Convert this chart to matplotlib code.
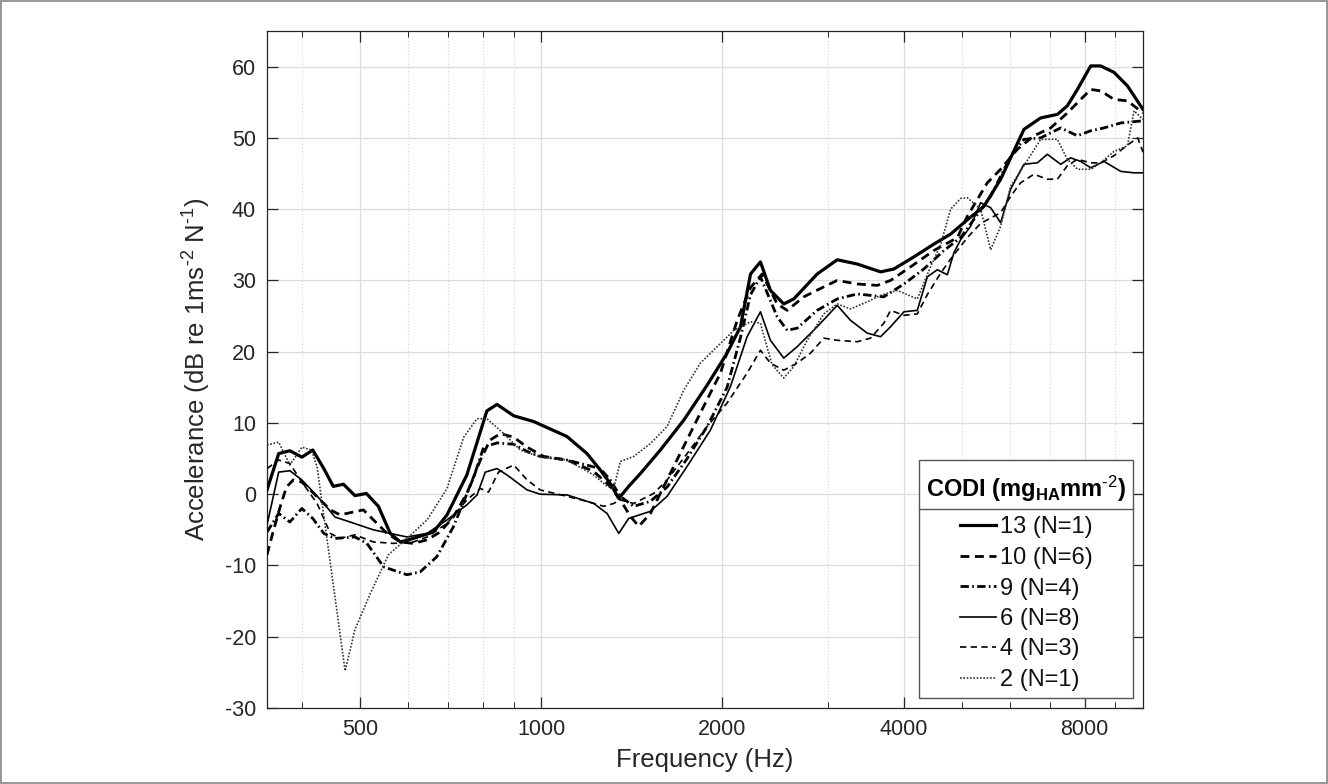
import matplotlib
matplotlib.use('Agg')
import matplotlib.pyplot as plt
from matplotlib.ticker import FixedLocator, FixedFormatter, LogLocator, NullFormatter
from matplotlib.lines import Line2D
from matplotlib.patches import Rectangle
import numpy as np

plt.rcParams['font.family'] = ['Liberation Sans', 'DejaVu Sans']
plt.rcParams['mathtext.fontset'] = 'custom'
plt.rcParams['mathtext.rm'] = 'Liberation Sans'
plt.rcParams['mathtext.it'] = 'Liberation Sans'
plt.rcParams['mathtext.bf'] = 'Liberation Sans:bold'
plt.rcParams['axes.unicode_minus'] = False

# ---------------- data ----------------
f13 = [350, 366, 382, 400, 417, 435, 451, 469, 490, 512, 536, 561, 583, 613, 662, 697, 752, 812, 844, 900, 971,
       1103, 1191, 1253, 1302, 1345, 1397, 1461, 1577, 1725, 1886, 2036, 2143, 2227, 2313, 2403, 2529, 2628,
       2874, 3103, 3350, 3663, 3854, 4161, 4492, 4789, 5105, 5441, 5800, 6341, 6760, 7206, 7486, 7780, 8186,
       8504, 8950, 9422, 10000]
d13 = [0.6, 5.7, 6.1, 5.2, 6.2, 3.6, 1.1, 1.4, -0.2, 0.1, -1.7, -5.5, -6.7, -6.2, -5.3, -2.9, 2.7, 11.7, 12.6, 11.0, 10.2,
       8.1, 5.7, 3.4, 1.5, -0.6, 1.1, 2.9, 6.2, 10.4, 15.3, 19.8, 23.5, 30.9, 32.6, 28.6, 26.7, 27.4,
       30.9, 32.9, 32.3, 31.2, 31.6, 33.3, 35.1, 36.5, 38.5, 40.4, 44.2, 51.2, 52.8, 53.3, 54.5, 56.8, 60.1,
       60.1, 59.2, 57.3, 54.0]

f10 = [350, 359, 368, 377, 387, 400, 413, 429, 446, 463, 487, 506, 526, 554, 583, 613, 646, 679, 714, 752,
       792, 822, 855, 900, 947, 1009, 1103, 1222, 1302, 1353, 1406, 1452, 1518, 1660, 1838, 1985, 2116, 2227,
       2328, 2466, 2562, 2731, 2948, 3103, 3350, 3617, 3806, 4108, 4492, 4914, 5105, 5511, 5800, 6182, 6588,
       7023, 7486, 7879, 8186, 8504, 8950, 9422, 10000]
d10 = [-8.5, -5.0, -1.8, 1.0, 2.0, 1.7, 0.6, -0.8, -2.2, -2.9, -2.5, -2.2, -3.6, -5.5, -6.7, -6.9, -6.4, -5.3, -3.2, 0.1,
       4.8, 7.6, 8.5, 8.0, 6.6, 5.3, 4.8, 3.2, 1.1, -0.8, -3.1, -4.5, -2.7, 3.9, 11.4, 17.0, 24.4, 29.0,
       30.9, 26.7, 25.8, 27.7, 29.1, 30.0, 29.5, 29.3, 30.0, 31.9, 34.2, 36.0, 39.0, 43.7, 45.6, 48.4, 50.3,
       51.4, 53.5, 55.4, 56.8, 56.6, 55.4, 55.2, 53.5]

f9 = [350, 366, 382, 400, 417, 435, 454, 490, 513, 547, 598, 629, 670, 714, 772, 802, 844, 900, 947, 996,
      1103, 1253, 1302, 1353, 1424, 1518, 1618, 1747, 1886, 2036, 2143, 2227, 2313, 2466, 2562, 2662, 2874,
      3103, 3350, 3525, 3709, 4006, 4323, 4669, 4975, 5582, 6025, 6341, 6760, 7297, 7780, 8186, 8613, 9185,
      10000]
d9 = [-5.3, -2.7, -3.9, -2.0, -3.4, -5.5, -6.2, -6.0, -6.9, -10.2, -11.3, -10.9, -8.8, -4.6, 2.4, 6.6, 7.2, 7.0, 6.0, 5.3,
      4.8, 3.6, 2.0, -0.3, -1.7, -1.0, 1.0, 5.0, 9.5, 15.0, 22.0, 28.0, 30.5, 24.9, 23.0, 23.3, 25.8,
      27.4, 28.1, 27.9, 27.7, 29.5, 31.6, 34.2, 36.0, 41.8, 47.4, 49.8, 50.0, 51.4, 50.3, 51.0, 51.4, 52.1,
      52.4]

f6 = [350, 366, 382, 400, 418, 435, 454, 481, 526, 568, 598, 646, 697, 752, 782, 807, 844, 877, 947, 996,
      1103, 1222, 1286, 1345, 1397, 1518, 1618, 1747, 1910, 2062, 2198, 2313, 2403, 2529, 2662, 2874, 3103,
      3265, 3481, 3663, 3806, 4006, 4216, 4380, 4551, 4729, 4851, 4975, 5170, 5372, 5582, 5800, 6025, 6341,
      6674, 6934, 7297, 7582, 7880, 8186, 8613, 9185, 9663, 10000]
d6 = [-4.3, 3.1, 3.3, 2.0, 0.3, -1.3, -3.2, -3.9, -5.0, -5.6, -6.0, -5.5, -3.6, -1.5, -0.1, 3.1, 3.6, 2.7, 0.6, 0.0,
      -0.1, -1.3, -2.7, -5.5, -3.4, -2.4, -0.3, 3.9, 9.0, 15.1, 22.1, 25.6, 21.6, 19.1, 20.7, 23.5, 26.5,
      24.4, 22.6, 22.1, 23.5, 25.6, 25.8, 30.5, 31.5, 30.8, 33.9, 35.7, 37.6, 40.9, 40.2, 38.1, 42.8, 46.3,
      46.5, 47.7, 46.3, 47.2, 46.7, 45.8, 46.7, 45.3, 45.1, 45.1]

f4 = [350, 366, 382, 400, 424, 446, 463, 490, 526, 568, 613, 646, 697, 752, 792, 817, 849, 900, 947, 996,
      1103, 1191, 1270, 1319, 1353, 1424, 1537, 1618, 1747, 1886, 2036, 2198, 2313, 2403, 2529, 2662, 2802,
      2948, 3103, 3350, 3525, 3709, 3806, 4006, 4216, 4380, 4608, 4789, 5105, 5372, 5800, 6025, 6260, 6588,
      6934, 7206, 7486, 7780, 8186, 8504, 8950, 9422, 9800, 10000]
d4 = [3.6, 4.8, 4.3, 1.7, -1.3, -5.5, -6.2, -5.7, -6.7, -6.9, -6.7, -6.0, -4.1, -0.8, 0.8, 0.3, 3.1, 4.1, 2.0, 0.6,
      -0.3, -1.0, -1.7, -1.3, -0.8, -1.3, 0.1, 2.0, 5.7, 9.5, 12.8, 17.0, 20.2, 18.4, 17.4, 18.4, 19.8,
      21.9, 21.6, 21.4, 21.9, 24.0, 25.8, 25.1, 25.3, 28.0, 31.0, 33.0, 36.0, 38.0, 39.5, 41.8, 43.7, 44.9,
      44.2, 44.2, 46.1, 47.0, 46.5, 46.5, 47.5, 49.0, 50.0, 48.0]

f2 = [350, 366, 382, 400, 415, 424, 472, 490, 520, 557, 598, 646, 697, 743, 782, 812, 866, 923, 996, 1103,
      1222, 1286, 1319, 1353, 1424, 1518, 1618, 1725, 1838, 1960, 2089, 2227, 2313, 2417, 2529, 2628, 2766,
      2948, 3103, 3265, 3481, 3663, 3904, 4216, 4435, 4608, 4789, 4975, 5105, 5372, 5582, 5800, 6025, 6341,
      6760, 7206, 7486, 7780, 8186, 8504, 8950, 9422, 9663, 10000]
d2 = [6.9, 7.3, 4.1, 6.6, 6.2, 3.8, -24.8, -19.0, -13.9, -8.5, -6.2, -3.6, 0.8, 8.0, 10.6, 10.6, 8.5, 6.2, 5.2, 4.8,
      2.7, 1.1, 0.8, 4.6, 5.3, 7.1, 9.5, 14.6, 18.4, 20.7, 23.0, 24.2, 24.0, 18.2, 16.3, 17.9, 21.6,
      25.3, 26.7, 26.0, 27.0, 27.9, 28.6, 27.4, 31.9, 35.0, 40.0, 41.5, 41.6, 40.0, 34.3, 37.6, 43.2, 46.1,
      49.8, 49.8, 47.0, 45.6, 45.6, 46.5, 48.1, 48.9, 53.8, 52.6]

series_labels = ['13 (N=1)', '10 (N=6)', '9 (N=4)', '6 (N=8)', '4 (N=3)', '2 (N=1)']
xticks = [500, 1000, 2000, 4000, 8000]
xticklabels = ['500', '1000', '2000', '4000', '8000']
yticks = [-30, -20, -10, 0, 10, 20, 30, 40, 50, 60]

# ---------------- figure ----------------
W, H = 1328, 784
fig = plt.figure(figsize=(W / 100, H / 100), dpi=100)
fig.patch.set_facecolor('white')
fig.patch.set_edgecolor('#9a9a9a')
fig.patch.set_linewidth(1.5)

ax_l, ax_r, ax_t, ax_b = 267, 1143, 31, 708
ax = fig.add_axes([ax_l / W, (H - ax_b) / H, (ax_r - ax_l) / W, (ax_b - ax_t) / H])

axcol = '#262626'
styles = [
    dict(color='black', lw=2.3, linestyle='-'),
    dict(color='black', lw=2.0, linestyle=(0, (3.2, 2.0))),
    dict(color='black', lw=2.0, linestyle=(0, (3.0, 1.2, 0.6, 1.2))),
    dict(color='black', lw=1.2, linestyle='-'),
    dict(color='black', lw=1.2, linestyle=(0, (3.8, 2.6))),
    dict(color='#333333', lw=1.2, linestyle=(0, (1.0, 1.0))),
]
data = [(f13, d13), (f10, d10), (f9, d9), (f6, d6), (f4, d4), (f2, d2)]
handles = []
for (fx, dy), st, lab in zip(data, styles, series_labels):
    h, = ax.plot(fx, dy, label=lab, zorder=3, **st)
    handles.append(h)

ax.set_xscale('log')
ax.set_xlim(350, 10000)
ax.set_ylim(-30, 65)
ax.xaxis.set_major_locator(FixedLocator(xticks))
ax.xaxis.set_major_formatter(FixedFormatter(xticklabels))
ax.xaxis.set_minor_locator(LogLocator(base=10, subs=np.arange(2, 10)))
ax.xaxis.set_minor_formatter(NullFormatter())
ax.set_yticks(yticks)
ax.set_yticklabels([str(v) for v in yticks])

ax.grid(True, which='major', color='#dcdcdc', lw=0.9, zorder=0)
ax.grid(True, which='minor', axis='x', color='#d4d4d4', lw=0.8, linestyle=(0, (1, 2)), zorder=0)
ax.set_axisbelow(True)

for sp in ax.spines.values():
    sp.set_color(axcol)
    sp.set_linewidth(0.9)
ax.tick_params(which='both', direction='in', top=True, right=True, colors=axcol,
               labelsize=15.5, labelcolor=axcol)
ax.tick_params(which='major', length=8, width=0.9, pad=8)
ax.tick_params(which='minor', length=4, width=0.7)

ax.set_xlabel('Frequency (Hz)', fontsize=18.5, color=axcol, labelpad=6)
ax.set_ylabel(r'Accelerance (dB re 1ms$^{\text{-2}}$ N$^{\text{-1}}$)', fontsize=18.5, color=axcol, labelpad=8)

leg = ax.legend(handles=handles, labels=series_labels, loc='lower right',
                title=r'$\mathbf{CODI\ (mg_{HA}mm^{\text{-2}})}$',
                fontsize=17, title_fontsize=17, frameon=False,
                borderaxespad=0.42,
                handlelength=1.55, handletextpad=0.15, labelspacing=0.36, borderpad=0.3)
leg._legend_box.sep = 9
leg.set_zorder(10)
for t in leg.get_texts():
    t.set_color('#111111')

fig.canvas.draw()
r = fig.canvas.get_renderer()
tb = leg.get_title().get_window_extent(r)
lb = leg.get_window_extent(r)
inv = fig.transFigure.inverted()
top = tb.y1 + 14
(x0, y0) = inv.transform((lb.x0, lb.y0))
(x1, y1) = inv.transform((lb.x1, top))
frame = Rectangle((x0, y0), x1 - x0, y1 - y0, transform=fig.transFigure, facecolor='white',
                  edgecolor='#555555', lw=1.0, zorder=8, clip_on=False)
ax.add_patch(frame)
ysep = tb.y0 - 5
ys = inv.transform((0, ysep))[1]
sep = Line2D([x0, x1], [ys, ys], transform=fig.transFigure, color='#555555', lw=1.0, zorder=9, clip_on=False)
ax.add_line(sep)

fig.savefig('out.png', dpi=100)
